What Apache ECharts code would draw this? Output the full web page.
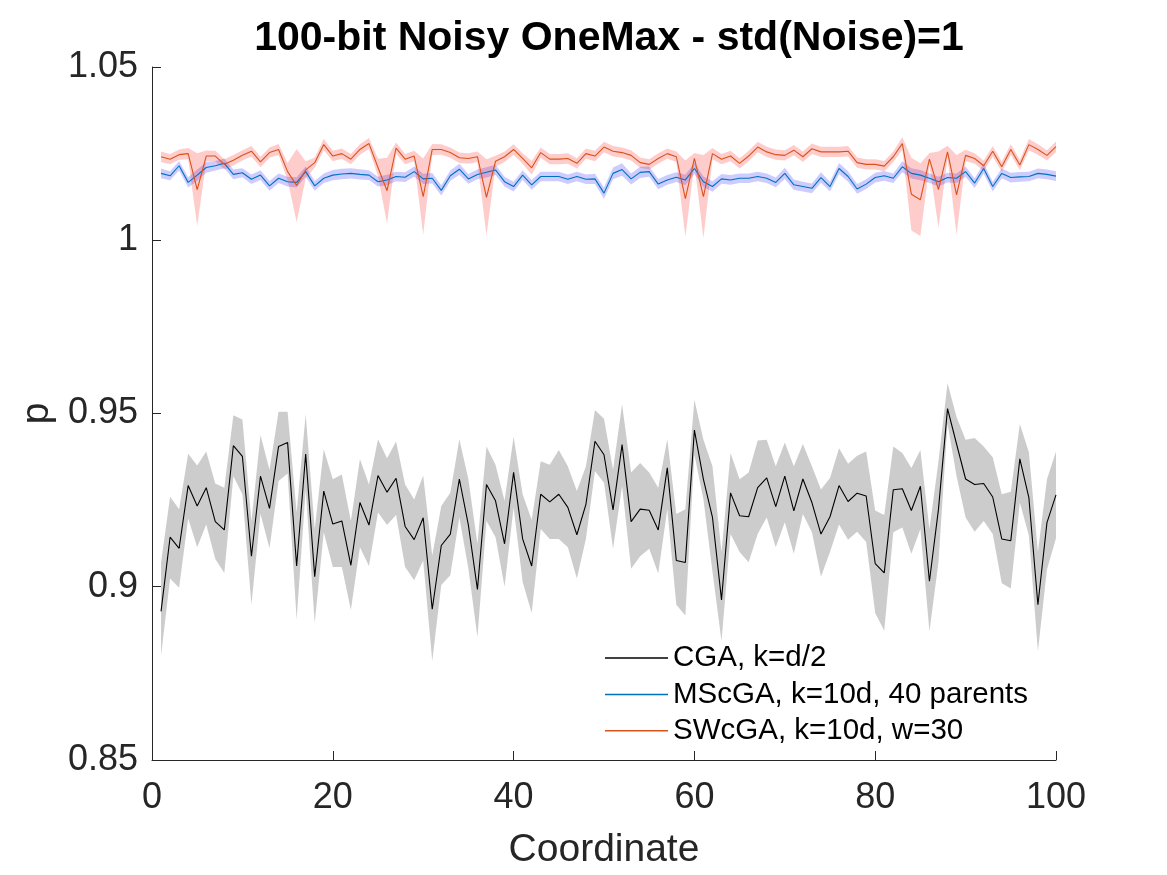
<!DOCTYPE html>
<html>
<head>
<meta charset="utf-8">
<title>100-bit Noisy OneMax</title>
<script src="https://cdn.jsdelivr.net/npm/echarts@6/dist/echarts.min.js"></script>
<style>
    html, body { margin: 0; padding: 0; background: #fff; }
    #main { width: 1167px; height: 875px; }
</style>
</head>
<body>
<div id="main"></div>
<script>
    var xTicks = [0, 20, 40, 60, 80, 100];
    var yTicks = [0.85, 0.9, 0.95, 1, 1.05];

    // CGA, k=d/2 : mean and band edges
    var cgaMean = [
        0.8929, 0.9143, 0.9111, 0.9292, 0.9233, 0.9286, 0.9188, 0.9164, 0.9407, 0.9376,
        0.9088, 0.9319, 0.9226, 0.9405, 0.9416, 0.9060, 0.9383, 0.9029, 0.9276, 0.9181,
        0.9190, 0.9062, 0.9243, 0.9178, 0.9321, 0.9273, 0.9313, 0.9174, 0.9136, 0.9199,
        0.8935, 0.9119, 0.9152, 0.9311, 0.9178, 0.8992, 0.9295, 0.9248, 0.9124, 0.9330,
        0.9138, 0.9060, 0.9267, 0.9245, 0.9267, 0.9229, 0.9150, 0.9238, 0.9420, 0.9381,
        0.9222, 0.9410, 0.9188, 0.9224, 0.9221, 0.9164, 0.9343, 0.9076, 0.9070, 0.9452,
        0.9310, 0.9200, 0.8962, 0.9271, 0.9205, 0.9202, 0.9286, 0.9314, 0.9231, 0.9319,
        0.9219, 0.9311, 0.9243, 0.9152, 0.9202, 0.9292, 0.9246, 0.9270, 0.9262, 0.9067,
        0.9040, 0.9280, 0.9283, 0.9220, 0.9290, 0.9016, 0.9224, 0.9514, 0.9412, 0.9311,
        0.9295, 0.9298, 0.9259, 0.9138, 0.9133, 0.9369, 0.9257, 0.8948, 0.9185, 0.9265
    ];
    var cgaHigh = [
        0.9070, 0.9260, 0.9224, 0.9384, 0.9350, 0.9390, 0.9298, 0.9286, 0.9495, 0.9483,
        0.9190, 0.9438, 0.9338, 0.9505, 0.9505, 0.9214, 0.9498, 0.9167, 0.9397, 0.9310,
        0.9324, 0.9190, 0.9369, 0.9295, 0.9426, 0.9371, 0.9419, 0.9295, 0.9252, 0.9321,
        0.9090, 0.9233, 0.9271, 0.9426, 0.9310, 0.9124, 0.9405, 0.9352, 0.9248, 0.9433,
        0.9267, 0.9193, 0.9362, 0.9352, 0.9395, 0.9348, 0.9276, 0.9348, 0.9510, 0.9485,
        0.9338, 0.9527, 0.9330, 0.9357, 0.9330, 0.9286, 0.9426, 0.9210, 0.9224, 0.9540,
        0.9424, 0.9348, 0.9100, 0.9386, 0.9310, 0.9330, 0.9422, 0.9424, 0.9348, 0.9416,
        0.9348, 0.9412, 0.9348, 0.9281, 0.9314, 0.9400, 0.9355, 0.9378, 0.9390, 0.9220,
        0.9207, 0.9405, 0.9386, 0.9343, 0.9395, 0.9167, 0.9362, 0.9588, 0.9490, 0.9424,
        0.9429, 0.9405, 0.9374, 0.9267, 0.9274, 0.9470, 0.9388, 0.9100, 0.9310, 0.9390
    ];
    var cgaLow = [
        0.8800, 0.9024, 0.8997, 0.9197, 0.9114, 0.9180, 0.9080, 0.9040, 0.9319, 0.9267,
        0.8948, 0.9210, 0.9111, 0.9305, 0.9327, 0.8905, 0.9280, 0.8895, 0.9157, 0.9057,
        0.9057, 0.8933, 0.9114, 0.9060, 0.9214, 0.9178, 0.9207, 0.9057, 0.9019, 0.9076,
        0.8786, 0.9005, 0.9033, 0.9200, 0.9052, 0.8854, 0.9190, 0.9143, 0.9000, 0.9229,
        0.9014, 0.8924, 0.9167, 0.9138, 0.9138, 0.9114, 0.9024, 0.9138, 0.9333, 0.9300,
        0.9110, 0.9290, 0.9052, 0.9088, 0.9110, 0.9038, 0.9224, 0.8948, 0.8917, 0.9381,
        0.9252, 0.9043, 0.8843, 0.9152, 0.9100, 0.9071, 0.9152, 0.9200, 0.9114, 0.9186,
        0.9095, 0.9210, 0.9157, 0.9029, 0.9100, 0.9180, 0.9136, 0.9159, 0.9129, 0.8924,
        0.8873, 0.9157, 0.9171, 0.9095, 0.9167, 0.8871, 0.9071, 0.9471, 0.9319, 0.9200,
        0.9159, 0.9190, 0.9152, 0.9010, 0.8995, 0.9243, 0.9148, 0.8814, 0.9050, 0.9140
    ];

    // MScGA, k=10d, 40 parents : mean and half band width (x0.001)
    var mscgaMean = [
        1.0193, 1.0186, 1.0215, 1.0167, 1.0188, 1.0210, 1.0215, 1.0222, 1.0190, 1.0195,
        1.0176, 1.0188, 1.0157, 1.0179, 1.0169, 1.0167, 1.0198, 1.0157, 1.0179, 1.0188,
        1.0191, 1.0193, 1.0190, 1.0188, 1.0169, 1.0174, 1.0184, 1.0182, 1.0198, 1.0177,
        1.0179, 1.0144, 1.0186, 1.0205, 1.0177, 1.0190, 1.0196, 1.0203, 1.0169, 1.0155,
        1.0188, 1.0160, 1.0184, 1.0184, 1.0184, 1.0176, 1.0184, 1.0176, 1.0177, 1.0136,
        1.0193, 1.0204, 1.0177, 1.0196, 1.0198, 1.0162, 1.0174, 1.0182, 1.0174, 1.0207,
        1.0169, 1.0155, 1.0177, 1.0174, 1.0179, 1.0179, 1.0184, 1.0179, 1.0167, 1.0193,
        1.0160, 1.0155, 1.0150, 1.0181, 1.0155, 1.0207, 1.0184, 1.0148, 1.0162, 1.0181,
        1.0186, 1.0179, 1.0212, 1.0193, 1.0188, 1.0179, 1.0169, 1.0181, 1.0179, 1.0198,
        1.0165, 1.0207, 1.0155, 1.0193, 1.0181, 1.0183, 1.0184, 1.0193, 1.0190, 1.0185
    ];
    var mscgaHalf = [
        1.4, 1.3, 1.4, 1.5, 1.6, 1.5, 1.4, 1.4, 1.4, 1.3,
        1.4, 1.4, 1.4, 1.4, 1.4, 1.5, 1.5, 1.4, 1.4, 1.5,
        1.5, 1.5, 1.5, 1.4, 1.4, 1.5, 1.4, 1.4, 1.5, 1.5,
        1.5, 1.5, 1.5, 1.6, 1.4, 1.4, 1.5, 1.5, 1.4, 1.4,
        1.4, 1.4, 1.4, 1.4, 1.4, 1.4, 1.4, 1.4, 1.5, 1.6,
        1.7, 1.8, 1.6, 1.6, 1.5, 1.5, 1.4, 1.4, 1.5, 1.6,
        1.5, 1.5, 1.4, 1.4, 1.4, 1.4, 1.4, 1.4, 1.4, 1.6,
        1.5, 1.4, 1.4, 1.5, 1.4, 1.6, 1.5, 1.4, 1.4, 1.4,
        1.4, 1.4, 1.6, 1.5, 1.5, 1.4, 1.4, 1.4, 1.4, 1.5,
        1.4, 1.5, 1.4, 1.4, 1.4, 1.4, 1.4, 1.4, 1.4, 1.4
    ];

    // SWcGA, k=10d, w=30 : mean and half band width (x0.001)
    var swcgaMean = [
        1.0241, 1.0234, 1.0247, 1.0250, 1.0146, 1.0243, 1.0243, 1.0219, 1.0231, 1.0245,
        1.0257, 1.0226, 1.0253, 1.0262, 1.0198, 1.0158, 1.0203, 1.0224, 1.0276, 1.0243,
        1.0250, 1.0234, 1.0262, 1.0279, 1.0210, 1.0143, 1.0266, 1.0234, 1.0243, 1.0126,
        1.0262, 1.0262, 1.0253, 1.0238, 1.0236, 1.0241, 1.0124, 1.0228, 1.0241, 1.0262,
        1.0236, 1.0209, 1.0253, 1.0234, 1.0234, 1.0236, 1.0222, 1.0250, 1.0243, 1.0269,
        1.0257, 1.0253, 1.0245, 1.0224, 1.0219, 1.0236, 1.0250, 1.0241, 1.0120, 1.0236,
        1.0126, 1.0250, 1.0234, 1.0243, 1.0222, 1.0243, 1.0269, 1.0255, 1.0247, 1.0245,
        1.0260, 1.0241, 1.0264, 1.0255, 1.0255, 1.0255, 1.0257, 1.0224, 1.0219, 1.0219,
        1.0214, 1.0241, 1.0279, 1.0133, 1.0117, 1.0234, 1.0146, 1.0255, 1.0131, 1.0245,
        1.0236, 1.0215, 1.0257, 1.0212, 1.0262, 1.0217, 1.0276, 1.0262, 1.0245, 1.0270
    ];
    var swcgaHalf = [
        1.5, 1.5, 1.5, 1.6, 10.5, 1.6, 1.5, 1.5, 1.5, 1.5,
        1.5, 1.5, 1.5, 1.6, 2.5, 10.5, 2.5, 1.5, 1.6, 1.5,
        1.5, 1.5, 1.5, 1.6, 2.5, 9.5, 1.6, 1.5, 1.5, 11.0,
        1.6, 1.5, 1.5, 1.5, 1.5, 1.5, 11.0, 1.6, 1.5, 1.5,
        1.5, 2.0, 1.5, 1.5, 1.5, 1.5, 1.5, 1.5, 1.5, 1.5,
        1.5, 1.5, 1.5, 1.5, 1.5, 1.5, 1.5, 1.5, 11.0, 1.6,
        12.0, 1.6, 1.5, 1.5, 1.5, 1.5, 1.5, 1.5, 1.5, 1.5,
        1.5, 1.5, 1.5, 1.5, 1.5, 1.5, 1.5, 1.5, 1.5, 1.5,
        1.5, 1.5, 1.8, 10.5, 10.5, 1.8, 11.0, 1.8, 11.5, 1.6,
        1.5, 1.5, 1.5, 1.5, 1.5, 1.5, 1.6, 1.5, 1.5, 1.5
    ];

    var FONT = "'Liberation Sans', Arial, Helvetica, sans-serif";
    var AXIS_COLOR = '#262626';

    //坐标 1..100 配上数值
    var pairs = function(arr){
        var out = [];
        for(var i = 0; i < arr.length; i++){
            out.push([i + 1, arr[i]]);
        }
        return out;
    }

    //阴影带：上沿走过去，下沿走回来，画成一个多边形
    var band = function(key, low, high, color){
        var rows = [];
        for(var i = 0; i < low.length; i++){
            rows.push([i + 1, low[i], high[i]]);
        }
        return {
            name: key + '-band',
            type: 'custom',
            silent: true,
            data: rows,
            encode: { x: 0, y: [1, 2] },
            renderItem: function(params, api){
                if(params.dataIndex !== 0) return null;
                var pts = [];
                for(var j = 0; j < rows.length; j++){
                    pts.push(api.coord([rows[j][0], rows[j][2]]));
                }
                for(var k = rows.length - 1; k >= 0; k--){
                    pts.push(api.coord([rows[k][0], rows[k][1]]));
                }
                return {
                    type: 'polygon',
                    shape: { points: pts },
                    style: { fill: color, stroke: null }
                };
            }
        };
    }

    var spread = function(mean, half, sign){
        var out = [];
        for(var i = 0; i < mean.length; i++){
            out.push(mean[i] + sign * half[i] * 0.001);
        }
        return out;
    }

    var meanLine = function(name, data, color){
        return {
            name: name, type: 'line', data: pairs(data),
            symbol: 'none', lineStyle: { color: color, width: 1.1 },
            itemStyle: { color: color }
        };
    }

    var series = [
        band('cga', cgaLow, cgaHigh, 'rgba(0,0,0,0.2)'),
        meanLine('CGA, k=d/2', cgaMean, '#000000'),
        band('mscga', spread(mscgaMean, mscgaHalf, -1), spread(mscgaMean, mscgaHalf, 1), 'rgba(0,0,255,0.2)'),
        meanLine('MScGA, k=10d, 40 parents', mscgaMean, '#0072BD'),
        band('swcga', spread(swcgaMean, swcgaHalf, -1), spread(swcgaMean, swcgaHalf, 1), 'rgba(255,0,0,0.2)'),
        meanLine('SWcGA, k=10d, w=30', swcgaMean, '#D95319')
    ];

    var myChart = echarts.init(document.getElementById('main'));
    var option = {
        backgroundColor: '#fff',
        animation: false,
        title: {
            text: '100-bit Noisy OneMax - std(Noise)=1',
            left: 604,
            textAlign: 'center',
            top: 13,
            textStyle: { fontFamily: FONT, fontSize: 41, fontWeight: 'bold', color: '#000' }
        },
        grid: { left: 152, right: 111, top: 67, bottom: 108, containLabel: false },
        legend: {
            data: ['CGA, k=d/2', 'MScGA, k=10d, 40 parents', 'SWcGA, k=10d, w=30'],
            orient: 'vertical',
            left: 600,
            top: 638,
            itemWidth: 63,
            itemHeight: 1.5,
            itemGap: 6.4,
            icon: 'rect',
            textStyle: { fontFamily: FONT, fontSize: 29.5, color: '#000', lineHeight: 29 }
        },
        xAxis: {
            type: 'value',
            min: xTicks[0],
            max: xTicks[xTicks.length - 1],
            interval: 20,
            name: 'Coordinate',
            nameLocation: 'middle',
            nameGap: 71,
            nameTextStyle: { fontFamily: FONT, fontSize: 39, color: AXIS_COLOR },
            axisLine: { lineStyle: { color: AXIS_COLOR, width: 1 } },
            axisTick: { inside: true, length: 9, lineStyle: { color: AXIS_COLOR } },
            axisLabel: { fontFamily: FONT, fontSize: 36, color: AXIS_COLOR, margin: 20 },
            splitLine: { show: false }
        },
        yAxis: {
            type: 'value',
            min: yTicks[0],
            max: yTicks[yTicks.length - 1],
            interval: 0.05,
            name: 'p',
            nameLocation: 'middle',
            nameGap: 90,
            nameRotate: 90,
            nameTextStyle: { fontFamily: FONT, fontSize: 39, color: AXIS_COLOR },
            axisLine: { show: true, lineStyle: { color: AXIS_COLOR, width: 1 } },
            axisTick: { show: true, inside: true, length: 9, lineStyle: { color: AXIS_COLOR } },
            axisLabel: {
                fontFamily: FONT, fontSize: 36, color: AXIS_COLOR, margin: 14,
                formatter: function(v){ return String(+v.toFixed(2)); }
            },
            splitLine: { show: false }
        },
        series: series
    };
    myChart.setOption(option);
</script>
</body>
</html>
